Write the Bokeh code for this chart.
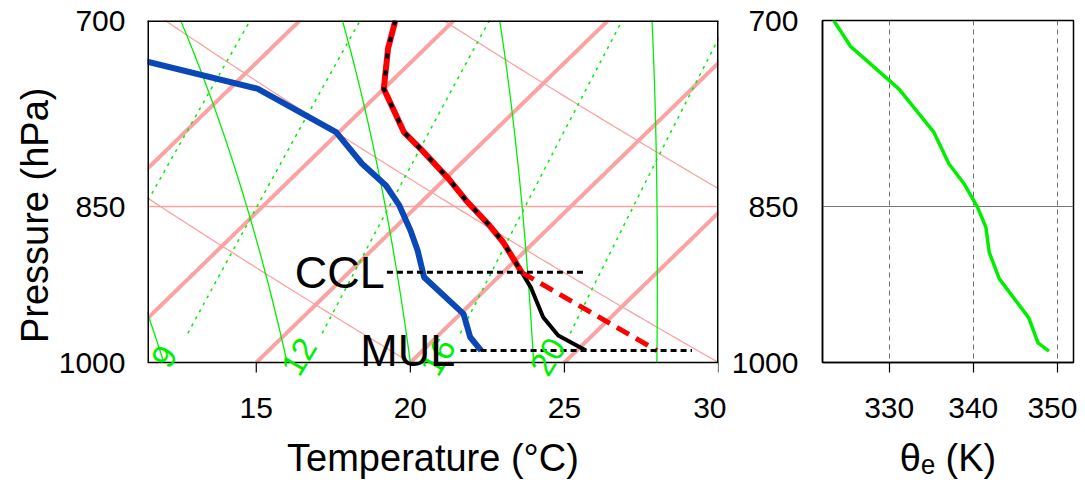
import numpy as np
from bokeh.plotting import figure
from bokeh.layouts import row
from bokeh.models import Range1d, FixedTicker, PrintfTickFormatter, Label
from bokeh.embed import file_html
from bokeh.resources import INLINE

# ---------------- data ----------------
# environmental temperature profile (hPa, degC)
t_pres = [700, 720.8, 751.6, 786.4, 800.2, 825.5, 844.5, 866.9, 882.1, 910.2, 924.6, 953.9, 972.3, 987.6]
t_temp = [8.1, 8.8, 10.0, 12.1, 13.2, 15.1, 16.4, 18.0, 19.0, 20.6, 21.4, 22.8, 23.9, 25.3]
# dew point profile
td_pres = [700, 751.6, 786.4, 812.8, 831.4, 848.9, 871.4, 889.8, 914.9, 950.5, 974.0, 987.6]
td_temp = [-5.4, 5.9, 9.9, 11.8, 13.3, 14.4, 15.6, 16.5, 17.6, 20.1, 21.1, 21.9]
# dry adiabat from CCL down to the surface (convective temperature)
conv_pres = [910.2, 987.6]
conv_temp = [20.6, 27.6]
# levels
ccl_pres = 910.2
mul_pres = 987.6
# equivalent potential temperature profile
thetae_pres = [700, 719.1, 745.1, 752.1, 786.4, 812.8, 829.9, 850.4, 868.5, 891.5, 916.5, 935.8, 954.5, 979.7, 988.3]
thetae_vals = [323.4, 325.4, 330.0, 331.2, 335.3, 337.1, 338.9, 340.5, 341.5, 341.9, 343.1, 344.9, 346.6, 347.7, 349.0]
# background lines
isotherms = list(range(-15, 45, 5))          # degC
dry_adiabats = [0, 10, 20, 30, 40, 50, 60]    # theta, degC
moist_adiabats = [8, 12, 16, 20, 24, 28, 32]  # theta_w, degC
mixing_ratios = [5, 7, 9, 12, 16, 20]         # g/kg
mr_labels = [9, 12, 16, 20]
t_ticks = [15, 20, 25, 30]
p_ticks = [700, 850, 1000]
te_ticks = [330, 340, 350]

# --------------- helpers ---------------
K = 32.0
FONT = "Liberation Sans"
T_LO, T_HI = 11.47, 30.0
P_TOP, P_BOT = 700.0, 1000.0
P_PAD = 1016.8      # frame extends a little below 1000 hPa so that labels are not cut
P_TICK = 1010.5     # length of the outer tick marks below the 1000 hPa line


def skx(T, p):
    return np.asarray(T, float) + K * np.log(1000.0 / np.asarray(p, float))


def td_from_w(w, p):
    e = (w / 1000.0) * p / (0.622 + w / 1000.0)
    a = np.log(e / 6.112)
    return 243.5 * a / (17.67 - a)


def moist(T0, pres):
    Rd, cp, L, eps = 287.04, 1005.7, 2.501e6, 0.622

    def f(T, p):
        es = 6.112 * np.exp(17.67 * (T - 273.15) / (T - 29.65))
        rs = eps * es / (p - es)
        return (Rd * T + L * rs) / (p * (cp + L * L * rs * eps / (Rd * T * T)))

    T = T0 + 273.15
    out = [T]
    for i in range(1, len(pres)):
        p = pres[i - 1]
        dp = pres[i] - pres[i - 1]
        k1 = f(T, p)
        k2 = f(T + dp * k1 / 2, p + dp / 2)
        T = T + dp * k2
        out.append(T)
    return np.array(out) - 273.15


pp = np.linspace(1000, 690, 160)

PINK = "#f9a3a3"
GREEN = "#00ee00"

p1 = figure(frame_width=571, frame_height=358, x_range=Range1d(T_LO, T_HI), y_range=Range1d(P_PAD, P_TOP),
            y_axis_type="log", output_backend="svg", toolbar_location=None,
            min_border_left=147, min_border_right=8, min_border_top=20, min_border_bottom=0)
p1.outline_line_color = None

# isotherms
for T in isotherms:
    p1.line(skx(np.full_like(pp, T), pp), pp, line_color=PINK, line_width=4)
# dry adiabats
for th in dry_adiabats:
    T = (th + 273.15) * (pp / 1000.0) ** 0.2857 - 273.15
    p1.line(skx(T, pp), pp, line_color=PINK, line_width=1.3)
# moist adiabats
for tw in moist_adiabats:
    T = moist(tw, pp)
    p1.line(skx(T, pp), pp, line_color=GREEN, line_width=1.3)
# mixing ratio lines
pm = np.linspace(970, 690, 120)
for w in mixing_ratios:
    p1.line(skx(td_from_w(w, pm), pm), pm, line_color=GREEN, line_width=1.5, line_dash="3 5")
for w in mr_labels:
    x0 = float(skx(td_from_w(w, 1000.0), 1000.0))
    p1.add_layout(Label(x=x0, y=1000, text=str(w), x_offset=-8, y_offset=6, angle=1.03,
                        text_align="center", text_baseline="middle", text_color=GREEN,
                        text_font=FONT, text_font_size="33px"))

# profiles
tp = np.array(t_pres)
tt = np.array(t_temp)
upper = tp <= ccl_pres
lower = tp >= ccl_pres
p1.line(skx(td_temp, td_pres), td_pres, line_color="#0a48b8", line_width=6, line_join="round")
p1.line(skx(tt[upper], tp[upper]), tp[upper], line_color="red", line_width=6, line_join="round")
p1.line(skx(tt[upper], tp[upper]), tp[upper], line_color="black", line_width=4, line_dash="5 12")
p1.line(skx(tt[lower], tp[lower]), tp[lower], line_color="black", line_width=4, line_join="round")
p1.line(skx(conv_temp, conv_pres), conv_pres, line_color="red", line_width=5, line_dash="14 8")

# CCL / MUL markers
p1.line([19.24, 25.62], [ccl_pres, ccl_pres], line_color="black", line_width=3, line_dash="6 4")
p1.line([21.63, 29.14], [mul_pres, mul_pres], line_color="black", line_width=3, line_dash="6 4")
p1.add_layout(Label(x=19.17, y=ccl_pres, text="CCL", text_align="right", text_baseline="middle",
                    text_font=FONT, text_font_size="45px", text_color="black"))
p1.add_layout(Label(x=21.46, y=mul_pres, text="MUL", text_align="right", text_baseline="middle",
                    text_font=FONT, text_font_size="45px", text_color="black"))

# plot box (700-1000 hPa) and outer tick marks
p1.line([T_LO, T_HI], [P_TOP, P_TOP], line_color="black", line_width=3)
p1.line([T_LO, T_HI], [P_BOT, P_BOT], line_color="black", line_width=1.5)
p1.line([T_LO, T_LO], [P_TOP, P_BOT], line_color="black", line_width=3)
p1.line([T_HI, T_HI], [P_TOP, P_BOT], line_color="black", line_width=3)
p1.segment(x0=t_ticks, y0=[P_BOT] * len(t_ticks), x1=t_ticks, y1=[P_TICK] * len(t_ticks),
           line_color="black", line_width=1.2)

p1.xgrid.visible = False
p1.ygrid.ticker = FixedTicker(ticks=[850])
p1.ygrid.grid_line_color = PINK
p1.ygrid.grid_line_width = 1.3

p1.xaxis.ticker = FixedTicker(ticks=t_ticks)
p1.yaxis.ticker = FixedTicker(ticks=p_ticks)
p1.yaxis.formatter = PrintfTickFormatter(format="%d")
p1.xaxis.axis_label = "Temperature (°C)"
p1.yaxis.axis_label = "Pressure (hPa)\u00a0\u00a0\u00a0"

p2 = figure(frame_width=251, frame_height=342, x_range=Range1d(322.07, 351.92), y_range=Range1d(P_BOT, P_TOP),
            y_axis_type="log", output_backend="svg", toolbar_location=None,
            min_border_left=96, min_border_right=4, min_border_top=20, min_border_bottom=0)
p2.outline_line_color = "black"
p2.outline_line_width = 1.5
p2.line(thetae_vals, thetae_pres, line_color=GREEN, line_width=3.5, line_join="round")
p2.xaxis.ticker = FixedTicker(ticks=te_ticks)
p2.yaxis.ticker = FixedTicker(ticks=p_ticks)
p2.yaxis.formatter = PrintfTickFormatter(format="%d")
p2.xaxis.axis_label = "θₑ (K)"
p2.xgrid.ticker = FixedTicker(ticks=te_ticks)
p2.xgrid.grid_line_color = "#707070"
p2.xgrid.grid_line_dash = "5 4"
p2.xgrid.grid_line_width = 1
p2.ygrid.ticker = FixedTicker(ticks=[850])
p2.ygrid.grid_line_color = "#777777"
p2.ygrid.grid_line_width = 1

for p in (p1, p2):
    for ax in (p.xaxis, p.yaxis):
        ax.axis_line_color = "black"
        ax.axis_line_width = 1.5
        ax.minor_tick_line_color = None
        ax.major_label_text_font = FONT
        ax.major_label_text_font_size = "30px"
        ax.major_label_text_color = "black"
        ax.axis_label_text_font = FONT
        ax.axis_label_text_font_size = "38px"
        ax.axis_label_text_font_style = "normal"
        ax.axis_label_text_color = "black"
    p.xaxis.major_tick_out = 10
    p.xaxis.major_tick_in = 0
    p.xaxis.major_tick_line_width = 1.2
    p.xaxis.major_label_standoff = 25
    p.xaxis.axis_label_standoff = 16
    p.yaxis.major_tick_out = 0
    p.yaxis.major_tick_in = 0
    p.yaxis.major_label_standoff = 22
    p.yaxis.axis_label_standoff = 0
    p.background_fill_color = "white"
    p.border_fill_color = "white"
p2.yaxis.major_label_standoff = 24

# left panel: box is drawn above, axes only carry the labels
p1.xaxis.axis_line_color = None
p1.xaxis.major_tick_line_color = None
p1.xaxis.major_tick_out = 0
p1.xaxis.major_label_standoff = 19
p1.yaxis.axis_line_color = None

layout = row(p1, p2)
open("out.html", "w").write(file_html(layout, INLINE))
